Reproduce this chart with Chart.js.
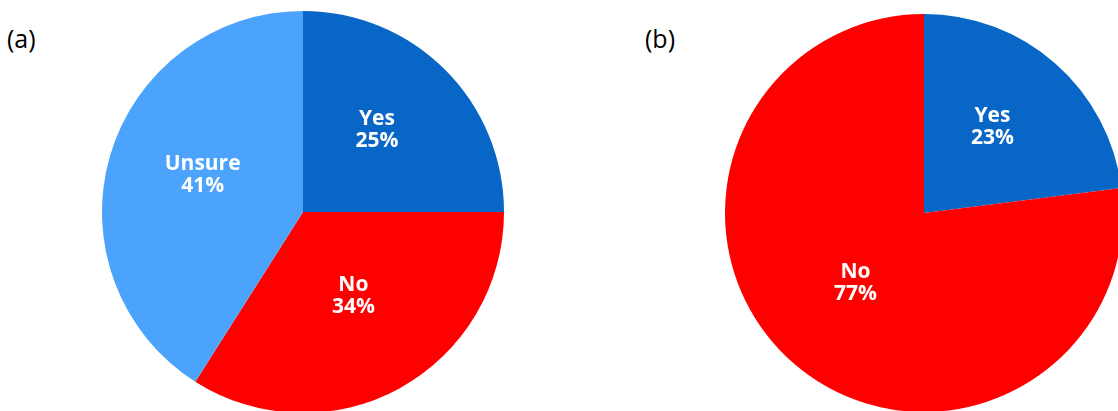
<!DOCTYPE html>
<html>
<head>
<meta charset="utf-8">
<script src="https://cdn.jsdelivr.net/npm/chart.js@4/dist/chart.umd.min.js"></script>
<style>
    html, body {
        margin: 0;
        padding: 0;
        background: #ffffff;
        width: 1118px;
        height: 411px;
        overflow: hidden;
        position: relative;
    }
    .panel-title {
        position: absolute;
        font-family: "Open Sans", sans-serif;
        font-size: 25px;
        color: #000000;
        line-height: 1;
    }
    .pie-box {
        position: absolute;
    }
</style>
</head>
<body>
<div class="panel-title" style="left:7px; top:26px;">(a)</div>
<div class="panel-title" style="left:645px; top:26px;">(b)</div>
<div class="pie-box" style="left:102px; top:11px;"><canvas id="pieA" width="402" height="402"></canvas></div>
<div class="pie-box" style="left:725px; top:14px;"><canvas id="pieB" width="398" height="398"></canvas></div>

<script>
// Data
const categoriesA = ['Yes', 'No', 'Unsure'];
const valuesA = [25, 34, 41];

const categoriesB = ['Yes', 'No'];
const valuesB = [23, 77];

// Colours per answer
const answerColors = {
    Yes: '#0866C6',
    No: '#FF0000',
    Unsure: '#4CA3FC'
};

// Draw "Label / NN%" inside each slice
const sliceLabels = {
    id: 'sliceLabels',
    afterDatasetsDraw(chart) {
        const ctx = chart.ctx;
        const meta = chart.getDatasetMeta(0);
        const data = chart.data.datasets[0].data;
        const labels = chart.data.labels;

        ctx.save();
        ctx.fillStyle = '#ffffff';
        ctx.textAlign = 'center';
        ctx.textBaseline = 'middle';
        ctx.font = 'bold 21px "Open Sans", sans-serif';

        meta.data.forEach((arc, i) => {
            const p = arc.getProps(['x', 'y', 'startAngle', 'endAngle', 'outerRadius'], true);
            const mid = (p.startAngle + p.endAngle) / 2;
            const r = p.outerRadius * 0.52;
            const cx = p.x + Math.cos(mid) * r;
            const cy = p.y + Math.sin(mid) * r - 8;
            ctx.fillText(labels[i], cx, cy - 11);
            ctx.fillText(data[i] + '%', cx, cy + 11);
        });
        ctx.restore();
    }
};

function makePie(canvasId, categories, values) {
    const ctx = document.getElementById(canvasId);
    if (!ctx) return;

    new Chart(ctx, {
        type: 'pie',
        data: {
            labels: categories,
            datasets: [{
                data: values,
                backgroundColor: categories.map(c => answerColors[c]),
                borderWidth: 0
            }]
        },
        options: {
            responsive: false,
            animation: false,
            layout: { padding: 0 },
            plugins: {
                legend: { display: false },
                tooltip: { enabled: false }
            }
        },
        plugins: [sliceLabels]
    });
}

document.addEventListener('DOMContentLoaded', function() {
    makePie('pieA', categoriesA, valuesA);
    makePie('pieB', categoriesB, valuesB);
});
</script>
</body>
</html>
